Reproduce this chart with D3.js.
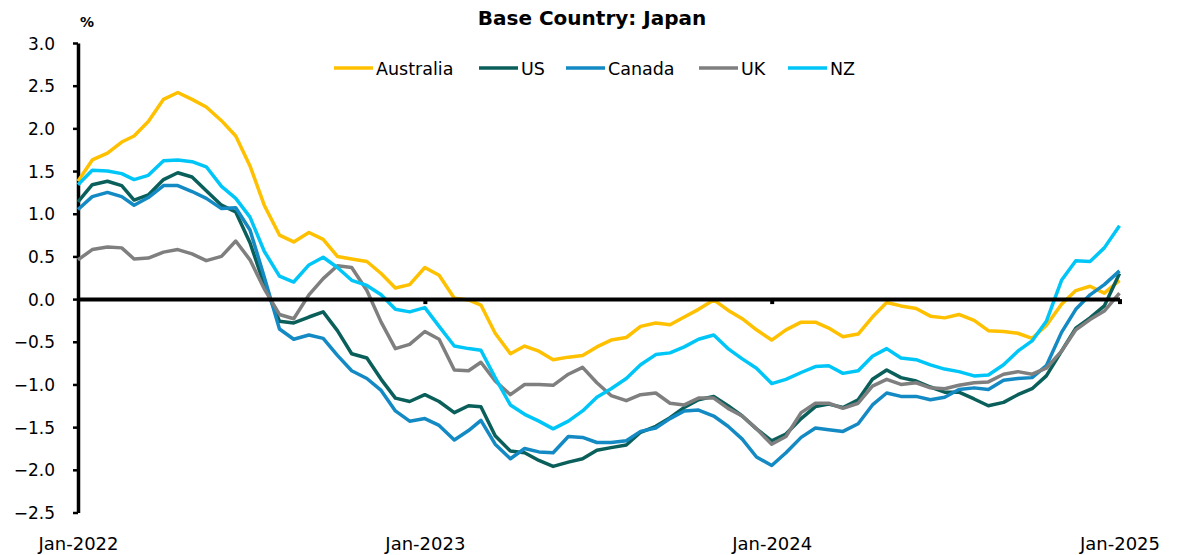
<!DOCTYPE html>
<html><head><meta charset="utf-8">
<script src="https://cdn.jsdelivr.net/npm/d3@7"></script>
<style>
html,body{margin:0;padding:0;background:#fff;}
svg{display:block;font-family:"DejaVu Sans",sans-serif;}
</style></head>
<body>
<svg id="chart" width="1183" height="555"></svg>
<script>
const dates = [
"2022-01-01","2022-01-16","2022-02-01","2022-02-16","2022-03-01","2022-03-16","2022-04-01","2022-04-16",
"2022-05-01","2022-05-16","2022-06-01","2022-06-16","2022-07-01","2022-07-16","2022-08-01","2022-08-16",
"2022-09-01","2022-09-16","2022-10-01","2022-10-16","2022-11-01","2022-11-16","2022-12-01","2022-12-16",
"2023-01-01","2023-01-16","2023-02-01","2023-02-16","2023-03-01","2023-03-16","2023-04-01","2023-04-16",
"2023-05-01","2023-05-16","2023-06-01","2023-06-16","2023-07-01","2023-07-16","2023-08-01","2023-08-16",
"2023-09-01","2023-09-16","2023-10-01","2023-10-16","2023-11-01","2023-11-16","2023-12-01","2023-12-16",
"2024-01-01","2024-01-16","2024-02-01","2024-02-16","2024-03-01","2024-03-16","2024-04-01","2024-04-16",
"2024-05-01","2024-05-16","2024-06-01","2024-06-16","2024-07-01","2024-07-16","2024-08-01","2024-08-16",
"2024-09-01","2024-09-16","2024-10-01","2024-10-16","2024-11-01","2024-11-16","2024-12-01","2024-12-16",
"2025-01-01"];

const australia = [1.38,1.63,1.71,1.84,1.91,2.08,2.34,2.42,2.34,2.25,2.09,1.91,1.56,1.10,0.75,0.67,
0.78,0.70,0.50,0.47,0.44,0.30,0.13,0.17,0.37,0.28,0.01,-0.01,-0.07,-0.40,-0.64,-0.55,
-0.61,-0.71,-0.68,-0.66,-0.56,-0.48,-0.45,-0.32,-0.28,-0.30,-0.21,-0.12,-0.01,-0.13,-0.23,-0.36,
-0.48,-0.36,-0.27,-0.27,-0.34,-0.44,-0.41,-0.21,-0.04,-0.08,-0.11,-0.20,-0.22,-0.18,-0.25,-0.37,
-0.38,-0.40,-0.46,-0.31,-0.06,0.10,0.15,0.07,0.22];

const us = [1.14,1.34,1.38,1.33,1.16,1.22,1.40,1.48,1.43,1.27,1.10,1.02,0.66,0.17,-0.26,-0.28,
-0.21,-0.15,-0.37,-0.64,-0.69,-0.94,-1.16,-1.20,-1.12,-1.20,-1.33,-1.25,-1.26,-1.60,-1.78,-1.80,
-1.89,-1.96,-1.91,-1.87,-1.77,-1.74,-1.71,-1.56,-1.49,-1.39,-1.27,-1.18,-1.14,-1.25,-1.37,-1.52,
-1.66,-1.58,-1.40,-1.26,-1.23,-1.27,-1.18,-0.94,-0.83,-0.92,-0.96,-1.03,-1.09,-1.09,-1.17,-1.25,
-1.21,-1.12,-1.05,-0.90,-0.61,-0.34,-0.22,-0.08,0.30];

const canada = [1.05,1.20,1.25,1.20,1.10,1.19,1.33,1.33,1.26,1.18,1.06,1.07,0.81,0.26,-0.35,-0.47,
-0.42,-0.46,-0.66,-0.84,-0.93,-1.07,-1.31,-1.43,-1.40,-1.48,-1.65,-1.54,-1.42,-1.70,-1.87,-1.75,
-1.79,-1.80,-1.61,-1.62,-1.68,-1.68,-1.66,-1.55,-1.51,-1.40,-1.31,-1.30,-1.37,-1.49,-1.64,-1.85,
-1.95,-1.80,-1.62,-1.51,-1.53,-1.55,-1.46,-1.24,-1.10,-1.14,-1.14,-1.18,-1.15,-1.06,-1.04,-1.06,
-0.95,-0.93,-0.92,-0.78,-0.39,-0.12,0.05,0.17,0.33];

const uk = [0.46,0.58,0.61,0.60,0.47,0.48,0.55,0.58,0.53,0.45,0.50,0.68,0.46,0.12,-0.18,-0.23,
0.05,0.24,0.39,0.37,0.10,-0.27,-0.58,-0.53,-0.38,-0.47,-0.83,-0.84,-0.74,-0.96,-1.12,-1.00,
-1.00,-1.01,-0.88,-0.80,-0.98,-1.13,-1.19,-1.12,-1.10,-1.22,-1.24,-1.16,-1.16,-1.28,-1.37,-1.52,
-1.70,-1.61,-1.33,-1.22,-1.22,-1.28,-1.22,-1.02,-0.94,-1.00,-0.98,-1.04,-1.05,-1.01,-0.98,-0.97,
-0.88,-0.85,-0.88,-0.81,-0.61,-0.36,-0.24,-0.14,0.07];

const nz = [1.34,1.51,1.50,1.47,1.40,1.45,1.62,1.63,1.61,1.55,1.32,1.18,0.96,0.56,0.27,0.20,
0.40,0.49,0.37,0.22,0.16,0.05,-0.12,-0.15,-0.10,-0.32,-0.55,-0.58,-0.60,-0.92,-1.24,-1.35,
-1.43,-1.52,-1.43,-1.31,-1.15,-1.05,-0.93,-0.77,-0.65,-0.63,-0.56,-0.47,-0.42,-0.58,-0.70,-0.81,
-0.99,-0.94,-0.86,-0.79,-0.78,-0.87,-0.84,-0.67,-0.58,-0.69,-0.71,-0.77,-0.82,-0.85,-0.90,-0.89,
-0.77,-0.61,-0.49,-0.26,0.22,0.45,0.44,0.60,0.86];

const seriesNames = ["Australia","US","Canada","UK","NZ"];
const seriesColors = ["#FFC000","#0A5F5B","#138AC3","#7F7F7F","#00C6F8"];
const yTicks = [3.0,2.5,2.0,1.5,1.0,0.5,0.0,-0.5,-1.0,-1.5,-2.0,-2.5];
const xTickDates = ["2022-01-01","2023-01-01","2024-01-01","2025-01-01"];
const xTickLabels = ["Jan-2022","Jan-2023","Jan-2024","Jan-2025"];

const allSeries = [australia, us, canada, uk, nz];
const parse = d3.timeParse("%Y-%m-%d");
const svg = d3.select("#chart");

const x = d3.scaleTime().domain([parse("2022-01-01"), parse("2025-01-01")]).range([78, 1119.5]);
const y = d3.scaleLinear().domain([-2.5, 3.0]).range([512.5, 43]);

// Title
svg.append("text").attr("x", 592).attr("y", 25).attr("text-anchor","middle")
  .attr("font-size", 20).attr("font-weight","bold").attr("fill","#000").text("Base Country: Japan");
svg.append("text").attr("x", 80).attr("y", 27).attr("font-size", 14).attr("font-weight","bold").text("%");

// Y axis
const yAxis = d3.axisLeft(y).tickValues(yTicks).tickSize(5).tickSizeOuter(0).tickFormat(d3.format(".1f"));
const gy = svg.append("g").attr("transform","translate(78,0)").call(yAxis);
gy.select(".domain").attr("stroke","#000").attr("stroke-width",3.5);
gy.selectAll(".tick line").attr("stroke","#000").attr("stroke-width",2.5);
gy.selectAll(".tick text").attr("font-size",17).attr("fill","#000")
  .attr("font-family","'DejaVu Sans',sans-serif").attr("x",-23).attr("dy","0.36em");

// Lines
const line = d3.line().x((d,i)=>x(parse(dates[i]))).y(d=>y(d));
allSeries.forEach((s,i)=>{
  svg.append("path").datum(s).attr("fill","none").attr("stroke",seriesColors[i])
    .attr("stroke-width",3.5).attr("stroke-linejoin","round").attr("d", line);
});

// Zero axis with year ticks
const xAxis0 = d3.axisBottom(x).tickValues(xTickDates.map(parse).slice(1)).tickSize(5).tickSizeOuter(0).tickFormat("");
const gx0 = svg.append("g").attr("transform",`translate(0,${y(0)})`).call(xAxis0);
gx0.select(".domain").attr("stroke","#000").attr("stroke-width",4);
gx0.selectAll(".tick line").attr("stroke","#000").attr("stroke-width",4);

// Bottom labels
const xAxisB = d3.axisBottom(x).tickValues(xTickDates.map(parse)).tickSize(0).tickPadding(0)
  .tickFormat((d,i)=>xTickLabels[i]);
const gxb = svg.append("g").attr("transform","translate(0,537)").call(xAxisB);
gxb.select(".domain").remove();
gxb.selectAll(".tick text").attr("font-size",18).attr("fill","#000").attr("font-family","'DejaVu Sans',sans-serif");

// Legend
const legendX = [334, 479, 566, 699, 788];
seriesNames.forEach((n,i)=>{
  const g = svg.append("g").attr("transform",`translate(${legendX[i]},68)`);
  g.append("line").attr("x1",0).attr("x2",39).attr("y1",0).attr("y2",0)
    .attr("stroke",seriesColors[i]).attr("stroke-width",3.5);
  g.append("text").attr("x",42).attr("y",6.5).attr("font-size",17.5).attr("fill","#000").text(n);
});
</script>
</body></html>
